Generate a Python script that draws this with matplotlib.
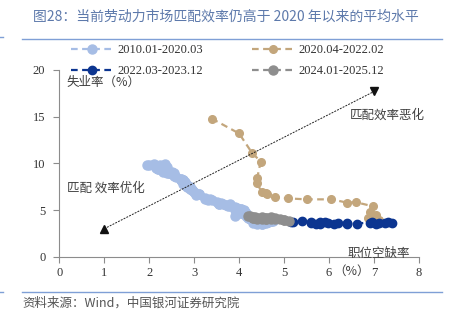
import matplotlib
matplotlib.use("Agg")
import matplotlib.pyplot as plt
from matplotlib.lines import Line2D

plt.rcParams['font.family'] = ['Liberation Serif', 'Noto Sans CJK SC', 'DejaVu Sans']

# job openings rate (x) / unemployment rate (y), monthly
open_1 = [1.95, 2.0, 2.1, 2.35, 2.4, 2.2, 2.2, 2.15, 2.25, 2.3, 2.25, 2.3,
          2.3, 2.45, 2.4, 2.4, 2.45, 2.5, 2.5, 2.5, 2.55, 2.55, 2.55, 2.6,
          2.7, 2.7, 2.75, 2.7, 2.75, 2.75, 2.7, 2.75, 2.75, 2.8, 2.8, 2.8,
          2.8, 2.85, 2.85, 2.85, 2.9, 2.9, 2.9, 2.95, 2.95, 2.95, 3.0, 3.05,
          3.05, 3.1, 3.1, 3.25, 3.25, 3.3, 3.35, 3.4, 3.5, 3.55, 3.6, 3.55,
          3.65, 3.7, 3.75, 3.8, 3.8, 3.9, 3.95, 3.95, 3.9, 4.0, 4.05, 4.0,
          4.1, 4.1, 4.1, 4.05, 4.0, 4.05, 4.0, 4.1, 4.05, 4.1, 4.05, 4.15,
          4.1, 4.15, 4.15, 4.2, 4.2, 4.2, 4.25, 4.2, 4.2, 4.25, 4.2, 4.25,
          4.3, 4.4, 4.35, 4.5, 4.5, 4.55, 4.6, 4.7, 4.65, 4.7, 4.75, 4.7,
          4.8, 4.6, 4.7, 4.65, 4.6, 4.55, 4.6, 4.5, 4.5, 4.45, 4.4, 4.3,
          4.4, 4.5, 3.9]
unemp_1 = [9.8, 9.8, 9.9, 9.9, 9.6, 9.4, 9.4, 9.5, 9.5, 9.4, 9.8, 9.3,
           9.1, 9.0, 9.0, 9.1, 9.0, 9.1, 9.0, 9.0, 9.0, 8.8, 8.6, 8.5,
           8.3, 8.3, 8.2, 8.2, 8.2, 8.2, 8.2, 8.0, 7.8, 7.8, 7.7, 7.9,
           8.0, 7.7, 7.5, 7.6, 7.5, 7.5, 7.3, 7.2, 7.2, 7.2, 6.9, 6.7,
           6.6, 6.7, 6.7, 6.2, 6.3, 6.1, 6.2, 6.1, 5.9, 5.7, 5.8, 5.6,
           5.7, 5.5, 5.4, 5.4, 5.6, 5.3, 5.2, 5.1, 5.0, 5.0, 5.1, 5.0,
           4.8, 4.9, 5.0, 5.1, 4.8, 4.9, 4.8, 4.9, 5.0, 4.9, 4.7, 4.7,
           4.7, 4.6, 4.4, 4.4, 4.4, 4.3, 4.3, 4.4, 4.3, 4.2, 4.2, 4.1,
           4.0, 4.1, 4.0, 4.0, 3.8, 4.0, 3.8, 3.8, 3.7, 3.8, 3.8, 3.9,
           4.0, 3.8, 3.8, 3.7, 3.6, 3.6, 3.7, 3.6, 3.5, 3.6, 3.6, 3.6,
           3.5, 3.5, 4.4]

open_2 = [3.39, 4.0, 4.29, 4.48, 4.40, 4.40, 4.50, 4.59, 4.62, 4.79, 5.09, 5.5,
          6.05, 6.4, 6.59, 6.98, 6.9, 7.05, 6.87, 6.95, 7.05, 6.9, 7.1]
unemp_2 = [14.8, 13.2, 11.1, 10.2, 8.4, 7.9, 6.9, 6.8, 6.7, 6.4, 6.25, 6.15,
           6.15, 5.8, 5.85, 5.4, 4.8, 4.5, 4.2, 4.0, 4.0, 3.8, 3.9]

open_3 = [7.39, 7.3, 7.24, 7.1, 7.05, 6.9, 6.95, 6.61, 6.4, 6.2, 6.39, 6.1,
          5.98, 5.8, 5.9, 5.6, 5.7, 5.6, 5.8, 5.4, 5.2, 5.16]
unemp_3 = [3.65, 3.7, 3.6, 3.6, 3.55, 3.6, 3.7, 3.55, 3.6, 3.6, 3.5, 3.55,
           3.6, 3.5, 3.7, 3.6, 3.55, 3.75, 3.7, 3.8, 3.7, 3.75]

open_4 = [5.1, 5.0, 5.0, 4.9, 4.8, 4.7, 4.6, 4.8, 4.6, 4.6, 4.7, 4.5,
          4.5, 4.6, 4.4, 4.5, 4.5, 4.4, 4.3, 4.35, 4.2, 4.3, 4.25, 4.3]
unemp_4 = [3.8, 3.9, 3.9, 4.0, 4.1, 4.1, 4.2, 4.2, 4.1, 4.2, 4.3, 4.2,
           4.1, 4.1, 4.2, 4.2, 4.3, 4.1, 4.2, 4.3, 4.35, 4.3, 4.4, 4.2]

labels = ['2010.01-2020.03', '2020.04-2022.02', '2022.03-2023.12', '2024.01-2025.12']
colors = ['#a6bde5', '#c3a67c', '#0c3590', '#8e8e8e']

# arrow ends
arrow_x = [1.0, 7.0]
arrow_y = [3.0, 17.7]

fig = plt.figure(figsize=(4.59, 3.21), dpi=100)
ax = fig.add_axes([0.129, 0.2, 0.784, 0.582])

series = [(open_1, unemp_1, 6.5), (open_2, unemp_2, 5.5),
          (open_3, unemp_3, 6.0), (open_4, unemp_4, 6.5)]
handles = []
for (xs, ys, ms), c, lab in zip(series, colors, labels):
    h, = ax.plot(xs, ys, color=c, ls=(0, (3, 2)), lw=1.6, marker='o', ms=ms,
                 mec=c, mfc=c, label=lab)
    handles.append(h)

ax.plot(arrow_x, arrow_y, color='#222222', ls=(0, (2, 1.2)), lw=0.7)
ax.plot(arrow_x[0], arrow_y[0], marker='^', ms=6, color='#111111')
ax.plot(arrow_x[1], arrow_y[1], marker='v', ms=6, color='#111111')

ax.set_xlim(0, 8)
ax.set_ylim(0, 20)
ax.set_xticks(range(0, 9))
ax.set_yticks([0, 5, 10, 15, 20])
for s in ['top', 'right']:
    ax.spines[s].set_visible(False)
for s in ['left', 'bottom']:
    ax.spines[s].set_color('#8c8c8c')
    ax.spines[s].set_linewidth(0.8)
ax.tick_params(colors='#8c8c8c', labelcolor='#333333', labelsize=9,
               length=4, width=0.8, pad=6)
ax.tick_params(axis='x', pad=3.5)

txt = dict(fontsize=9, color='#404040', family=['Noto Sans CJK SC'])
ax.text(0.17, 18.7, '失业率（%）', va='center', **txt)
ax.text(6.46, 15.1, '匹配效率恶化', va='center', **txt)
ax.text(0.17, 7.35, '匹配 效率优化', va='center', **txt)
ax.text(6.41, 0.3, '职位空缺率', va='center', **txt)
ax.text(6.1, -1.55, '（%）', va='center', **txt)

order = [0, 2, 1, 3]
leg = fig.legend([handles[i] for i in order], [labels[i] for i in order],
                 ncol=2, frameon=False, fontsize=9, loc='upper left',
                 bbox_to_anchor=(0.155, 0.863), handlelength=3.4,
                 handletextpad=0.3, columnspacing=3.9, labelspacing=0.75,
                 borderpad=0, borderaxespad=0)
for t in leg.get_texts():
    t.set_color('#333333')

# header and footer
fig.text(0.072, 0.947, '图28：当前劳动力市场匹配效率仍高于 2020 年以来的平均水平',
         fontsize=10, color='#5d79ab', va='center',
         family=['Noto Sans CJK SC'])
fig.add_artist(Line2D([0.048, 0.963], [0.877, 0.877], color='#7f9fd6', lw=1))
fig.add_artist(Line2D([0.048, 0.963], [0.09, 0.09], color='#7f9fd6', lw=1))
fig.add_artist(Line2D([0.0, 0.006], [0.885, 0.885], color='#7f9fd6', lw=1))
fig.add_artist(Line2D([0.0, 0.006], [0.09, 0.09], color='#7f9fd6', lw=1))
fig.text(0.048, 0.056, '资料来源：Wind，中国银河证券研究院', fontsize=9,
         color='#555555', va='center', style='italic',
         family=['Noto Sans CJK SC'])

fig.savefig('out.png', dpi=100)
